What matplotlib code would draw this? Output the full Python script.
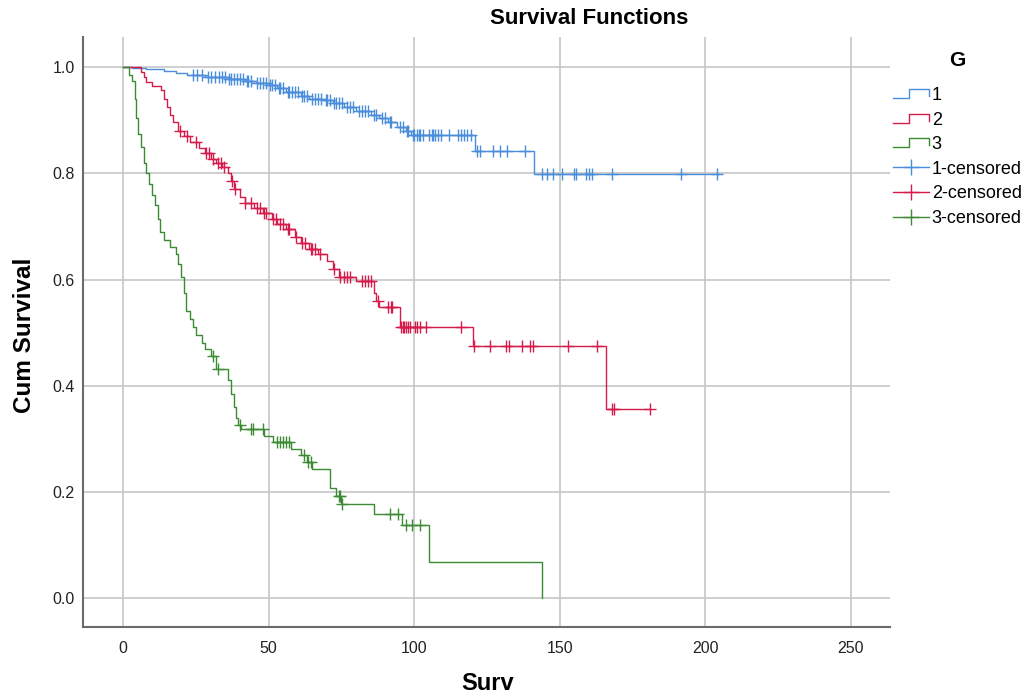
import numpy as np
import matplotlib
matplotlib.use("Agg")
import matplotlib.pyplot as plt
from matplotlib.lines import Line2D
from matplotlib.legend_handler import HandlerBase

plt.rcParams['font.family'] = ['Liberation Sans', 'DejaVu Sans']

# ---------------- data ----------------
groups = ["1", "2", "3"]

g1_times = [3, 8, 14, 18, 22, 28, 36, 42, 46, 50, 53, 56, 61, 64, 69, 72, 76, 80,
            85, 88, 91, 94, 97, 99, 121, 141]
g1_surv = [0.998, 0.996, 0.993, 0.990, 0.986, 0.982, 0.978, 0.975, 0.970, 0.966,
           0.960, 0.953, 0.946, 0.941, 0.938, 0.932, 0.925, 0.918, 0.910, 0.904,
           0.896, 0.887, 0.880, 0.873, 0.842, 0.798]
g1_end = 204.8
g1_cens = [24, 25.5, 27, 29, 30, 31.5, 33, 34, 35, 36.5, 37, 38, 39, 40, 41, 42.5, 43, 44,
           46, 47, 48, 49, 50.5, 51, 52, 53.5, 54, 55, 56.5, 57, 58, 59, 60,
           61.5, 62, 63, 65, 66, 67, 68, 69.5, 70, 71, 72.5, 73, 74, 75,
           77, 78, 79, 81, 82, 83, 84, 86, 87, 89, 90, 91.5, 92, 95, 96, 97.5, 98,
           99.5, 100, 101, 101.5, 102, 103, 105, 106, 106.5, 107, 108, 109, 112,
           115, 116, 117, 118, 119.5, 121.5, 122.6, 127, 129.5, 132, 138,
           144, 145.5, 147.6, 150.6, 155, 155.5, 159, 160, 161, 168, 191.7, 204]

g2_times = [6, 7, 8, 10, 13, 14, 15, 16, 17, 19, 21, 23, 26, 28, 30, 32, 34, 36, 37, 38,
            40, 42, 45, 48, 51, 53, 56, 59, 61, 64, 67, 70, 72, 74, 80, 86, 87, 88,
            95, 120, 166]
g2_surv = [0.991, 0.982, 0.973, 0.965, 0.957, 0.940, 0.925, 0.910, 0.896, 0.880,
           0.870, 0.860, 0.848, 0.838, 0.828, 0.820, 0.812, 0.800, 0.785, 0.770,
           0.755, 0.745, 0.735, 0.725, 0.715, 0.705, 0.695, 0.680, 0.668, 0.658,
           0.648, 0.635, 0.620, 0.605, 0.597, 0.575, 0.560, 0.548, 0.511, 0.474, 0.356]
g2_end = 180.8
g2_cens = [19.5, 22, 25, 28.5, 29.5, 31, 32.5, 33.5, 34.5, 37.5, 38.5, 42, 44, 46, 47,
           48.5, 49, 51.5, 52.5, 54, 55, 56.5, 57, 59.5, 61.5, 62.5, 64.5, 65, 66, 67.5,
           72.5, 74.5, 76, 77, 78, 82, 83, 84, 85, 87.5, 91, 92, 92.5,
           95.5, 96, 96.5, 97, 98, 98.5, 100.3, 101, 102, 104, 116,
           120.5, 126, 131.5, 132.5, 137, 139.7, 140.7, 152.8, 162.7,
           167.8, 168.5, 180.8]

g3_times = [2, 3, 4, 4.5, 5, 6, 7, 8, 9, 10, 11, 12, 12.5, 14, 16, 18, 19, 20, 21, 21.5,
            23, 24, 25, 27, 28, 30, 32, 36, 37, 38, 38.7, 39.4, 40.4, 48.3, 51.4, 57.5,
            61, 63, 65, 71.2, 73, 74.7, 86, 95.9, 105, 144]
g3_surv = [0.985, 0.975, 0.94, 0.905, 0.875, 0.85, 0.819, 0.80, 0.78, 0.76, 0.74, 0.715,
           0.69, 0.675, 0.662, 0.649, 0.63, 0.605, 0.575, 0.54, 0.525, 0.51, 0.495, 0.48,
           0.47, 0.455, 0.432, 0.41, 0.385, 0.36, 0.34, 0.325, 0.318, 0.306, 0.293, 0.28,
           0.27, 0.256, 0.243, 0.208, 0.192, 0.177, 0.159, 0.137, 0.068, 0.0]
g3_end = 144
g3_cens = [31, 32.5, 40, 44, 44.5, 48, 53, 54, 55, 56, 57, 62, 63.4, 64.4, 74, 74.5,
           75.3, 91.8, 94.5, 97, 99.3, 102]

x_ticks = [0, 50, 100, 150, 200, 250]
y_ticks = [0.0, 0.2, 0.4, 0.6, 0.8, 1.0]

colors = ["#4A8EDB", "#D51A4C", "#3C8A32"]

# ---------------- figure ----------------
fig = plt.figure(figsize=(10.25, 6.97), dpi=100)
ax = fig.add_axes([83 / 1025, 1 - 627 / 697, (890 - 83) / 1025, (627 - 37) / 697])

data = [(g1_times, g1_surv, g1_end, g1_cens),
        (g2_times, g2_surv, g2_end, g2_cens),
        (g3_times, g3_surv, g3_end, g3_cens)]

for (tms, sv, end, cens), col in zip(data, colors):
    t_full = np.array([0.0] + list(tms) + [end])
    s_full = np.array([1.0] + list(sv) + [sv[-1]])
    ax.step(t_full, s_full, where='post', color=col, lw=1.0, zorder=3)
    c = np.array(cens)
    idx = np.searchsorted(t_full, c, side='right') - 1
    ax.plot(c, s_full[idx], linestyle='none', marker='+', markersize=8,
            mew=1.0, color=col, zorder=4)

ax.set_xlim(-13.8, 263.4)
ax.set_ylim(-0.0547, 1.057)
ax.set_xticks(x_ticks)
ax.set_yticks(y_ticks)
ax.set_yticklabels([f"{v:.1f}" for v in y_ticks])
ax.tick_params(length=0, labelsize=11.5, colors='#222222')
ax.tick_params(axis='x', pad=10)
ax.tick_params(axis='y', pad=6)
ax.grid(True, color='#c6c6c6', lw=1.2)
ax.set_axisbelow(True)
for s in ['top', 'right']:
    ax.spines[s].set_visible(False)
for s in ['left', 'bottom']:
    ax.spines[s].set_color('#6a6a6a')
    ax.spines[s].set_linewidth(1.5)

fig.text(589 / 1025, 1 - 18 / 697, "Survival Functions", ha='center', va='center',
         fontsize=16, fontweight='bold')
fig.text(25 / 1025, 1 - 335 / 697, "Cum Survival", ha='center', va='center',
         rotation=90, fontsize=17.5, fontweight='bold')
fig.text(488 / 1025, 1 - 683 / 697, "Surv", ha='center', va='center',
         fontsize=17, fontweight='bold')

# ---------------- legend ----------------
class StepHandler(HandlerBase):
    def create_artists(self, legend, orig_handle, xdescent, ydescent, width, height,
                       fontsize, trans):
        x0 = -xdescent
        y0 = -ydescent
        xs = [x0, x0 + 0.45 * width, x0 + 0.45 * width, x0 + width, x0 + width]
        ys = [y0 + 0.15 * height, y0 + 0.15 * height, y0 + 0.85 * height,
              y0 + 0.85 * height, y0 + 0.3 * height]
        ln = Line2D(xs, ys, color=orig_handle.get_color(), lw=1.0)
        ln.set_transform(trans)
        return [ln]

step_handles = [Line2D([], [], color=c, lw=1.0) for c in colors]
cens_handles = [Line2D([], [], color=c, lw=1.0, marker='+', markersize=12, mew=1.0)
                for c in colors]
labels = groups + [g + "-censored" for g in groups]
handler_map = {h: StepHandler() for h in step_handles}
leg = fig.legend(step_handles + cens_handles, labels, handler_map=handler_map,
                 loc='upper left', bbox_to_anchor=(893 / 1025, 1 - 87 / 697),
                 frameon=False, fontsize=13, borderpad=0, borderaxespad=0,
                 handlelength=2.0, handletextpad=0.15, labelspacing=0.42, numpoints=1)
fig.text(957 / 1025, 1 - 60 / 697, "G", ha='center', va='center', fontsize=15,
         fontweight='bold')

fig.savefig("out.png", dpi=100)
